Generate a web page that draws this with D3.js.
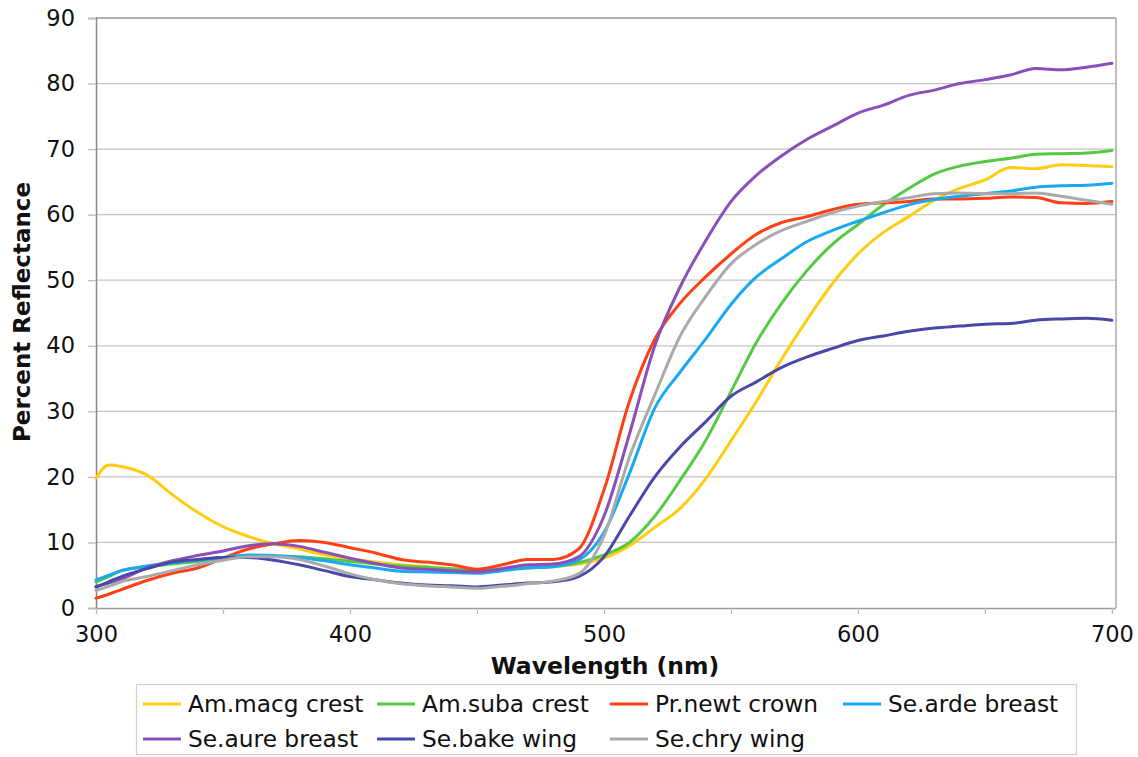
<!DOCTYPE html>
<html>
<head>
<meta charset="utf-8">
<script src="https://cdn.jsdelivr.net/npm/d3@7/dist/d3.min.js"></script>
<style>
html,body{margin:0;padding:0;background:#fff;}
svg{display:block;font-family:"DejaVu Sans",Verdana,sans-serif;}
</style>
</head>
<body>
<svg id="chart" width="1138" height="757"></svg>
<script>
const wavelengths = [300,305,310,320,330,340,350,360,370,380,390,400,410,420,430,440,450,460,470,480,490,500,510,520,530,540,550,560,570,580,590,600,610,620,630,640,650,660,670,680,690,700];

const amMacgCrest = [19.8,21.8,21.6,20.3,17.3,14.6,12.4,10.9,9.8,9.0,8.1,7.5,7.0,6.6,6.3,6.0,5.8,5.9,6.1,6.3,6.7,7.6,9.5,12.3,15.2,19.7,25.5,31.5,38,44,49.5,54,57.3,59.7,62.2,64,65.3,67.2,67.0,67.6,67.5,67.3];
const amSubaCrest = [4.0,4.8,5.7,6.3,6.7,7.1,7.5,7.8,7.9,7.8,7.5,7.1,6.7,6.4,6.2,6.0,5.8,6.0,6.2,6.4,6.9,8.1,10,14,19.5,25.5,33,40.5,46.5,51.5,55.5,58.5,61.5,64,66.2,67.4,68.1,68.6,69.2,69.3,69.4,69.8];
const prNewtCrown = [1.5,2.1,2.8,4.2,5.3,6.1,7.6,9.0,9.8,10.3,10.0,9.2,8.4,7.4,7.0,6.6,5.9,6.6,7.4,7.4,9.0,18,31.5,41,46.5,50.5,54,57,58.8,59.7,60.8,61.6,61.8,62,62.4,62.4,62.5,62.7,62.6,61.8,61.7,62];
const seArdeBreast = [4.3,5.0,5.7,6.4,6.9,7.3,7.7,8.1,8.0,7.7,7.2,6.6,6.1,5.6,5.5,5.4,5.3,5.7,6.1,6.3,7.3,11.5,20.5,30.5,36,41,46.3,50.5,53.3,55.9,57.6,59,60.3,61.5,62.3,62.8,63.2,63.6,64.2,64.4,64.5,64.8];
const seAureBreast = [3.3,3.8,4.4,6.1,7.2,8.0,8.7,9.5,9.8,9.4,8.5,7.6,6.8,6.1,5.9,5.7,5.5,6.0,6.6,6.7,7.8,14,26.5,40,49,56,62,66,69,71.5,73.5,75.5,76.7,78.2,79,80,80.6,81.3,82.3,82.1,82.5,83.1];
const seBakeWing = [3.2,4.0,4.8,6.0,7.0,7.4,7.7,7.7,7.3,6.6,5.7,4.8,4.3,3.8,3.5,3.4,3.2,3.5,3.8,4.0,4.8,7.8,14,20,24.6,28.4,32.3,34.5,36.7,38.3,39.6,40.8,41.5,42.2,42.7,43,43.3,43.4,43.9,44.1,44.2,43.9];
const seChryWing = [2.7,3.3,4.0,4.8,5.7,6.6,7.3,7.8,7.8,7.4,6.4,5.2,4.3,3.7,3.4,3.2,3.0,3.3,3.7,4.1,5.2,11,23,32.5,41.5,47.5,52.5,55.5,57.6,59,60.3,61.3,62,62.6,63.2,63.3,63.2,63.2,63.3,62.8,62.2,61.6];

const seriesNames = ["Am.macg crest","Am.suba crest","Pr.newt crown","Se.arde breast","Se.aure breast","Se.bake wing","Se.chry wing"];
const seriesColors = ["#FFCC11","#55C944","#FF3F14","#1AA8F4","#8A4FB8","#4848A8","#AAAAAA"];
const seriesValues = [amMacgCrest,amSubaCrest,prNewtCrown,seArdeBreast,seAureBreast,seBakeWing,seChryWing];

const yTicks = [0,10,20,30,40,50,60,70,80,90];
const xTickLabels = [300,400,500,600,700];
const xMinorTicks = [300,350,400,450,500,550,600,650,700];

(function draw() {
const svg = d3.select("#chart");
const pLeft = 96, pRight = 1116, pTop = 18, pBottom = 608;

const x = d3.scaleLinear().domain([300, 701.6]).range([pLeft, pRight]);
const y = d3.scaleLinear().domain([0, 90]).range([pBottom, pTop]);

// gridlines
svg.append("g").selectAll("line").data(yTicks.filter(d => d > 0 && d < 90)).join("line")
  .attr("x1", pLeft).attr("x2", pRight)
  .attr("y1", d => y(d)).attr("y2", d => y(d))
  .attr("stroke", "#c4c4c4").attr("stroke-width", 1.3);

// frame: top and right
svg.append("line").attr("x1", pLeft).attr("x2", pRight).attr("y1", pTop).attr("y2", pTop)
  .attr("stroke", "#999").attr("stroke-width", 1.5);
svg.append("line").attr("x1", pRight).attr("x2", pRight).attr("y1", pTop).attr("y2", pBottom)
  .attr("stroke", "#aaa").attr("stroke-width", 1.5);

// y axis
const yAxis = d3.axisLeft(y).tickValues(yTicks).tickSize(8).tickPadding(13);
const gy = svg.append("g").attr("transform", `translate(${pLeft},0)`).call(yAxis);
gy.select(".domain").attr("stroke", "#888").attr("stroke-width", 1.5);
gy.selectAll(".tick line").attr("stroke", "#bbb").attr("stroke-width", 1.3);
gy.selectAll(".tick text").attr("font-size", 22.5).attr("fill", "#111")
  .attr("font-family", "DejaVu Sans, Verdana, sans-serif");

// x axis
const xAxis = d3.axisBottom(x).tickValues(xMinorTicks).tickSize(6).tickPadding(12)
  .tickFormat(d => xTickLabels.includes(d) ? d : "");
const gx = svg.append("g").attr("transform", `translate(0,${pBottom})`).call(xAxis);
gx.select(".domain").attr("d", `M${pLeft},0.5H${pRight}`).attr("stroke", "#999").attr("stroke-width", 1.5);
gx.selectAll(".tick line").attr("stroke", "#bbb").attr("stroke-width", 1.3);
gx.selectAll(".tick text").attr("font-size", 22.5).attr("fill", "#111")
  .attr("font-family", "DejaVu Sans, Verdana, sans-serif");

// lines
const line = d3.line()
  .x((d, i) => x(wavelengths[i]))
  .y(d => y(d))
  .curve(d3.curveMonotoneX);

const plot = svg.append("g");
seriesValues.forEach((vals, k) => {
  plot.append("path").datum(vals)
    .attr("d", line)
    .attr("fill", "none")
    .attr("stroke", seriesColors[k])
    .attr("stroke-width", 3)
    .attr("stroke-linejoin", "round")
    .attr("stroke-linecap", "round");
});

// axis titles
svg.append("text").attr("x", 605).attr("y", 674)
  .attr("text-anchor", "middle").attr("font-size", 23.5).attr("font-weight", "bold")
  .attr("fill", "#111").text("Wavelength (nm)");
svg.append("text").attr("transform", `translate(30,312) rotate(-90)`)
  .attr("text-anchor", "middle").attr("font-size", 23).attr("font-weight", "bold")
  .attr("fill", "#111").text("Percent Reflectance");

// legend
const lg = svg.append("g");
lg.append("rect").attr("x", 136.5).attr("y", 684.5).attr("width", 940).attr("height", 70)
  .attr("fill", "#fff").attr("stroke", "#d0d0d0").attr("stroke-width", 1.2);
const colX = [143, 377, 610, 843];
const rowY = [704, 739];
seriesNames.forEach((name, k) => {
  const cx = colX[k % 4], cy = rowY[Math.floor(k / 4)];
  lg.append("line").attr("x1", cx).attr("x2", cx + 38).attr("y1", cy).attr("y2", cy)
    .attr("stroke", seriesColors[k]).attr("stroke-width", 3);
  lg.append("text").attr("x", cx + 45).attr("y", cy).attr("dy", "0.36em")
    .attr("font-size", 23.3).attr("fill", "#111").text(name);
});
})();
</script>
</body>
</html>
